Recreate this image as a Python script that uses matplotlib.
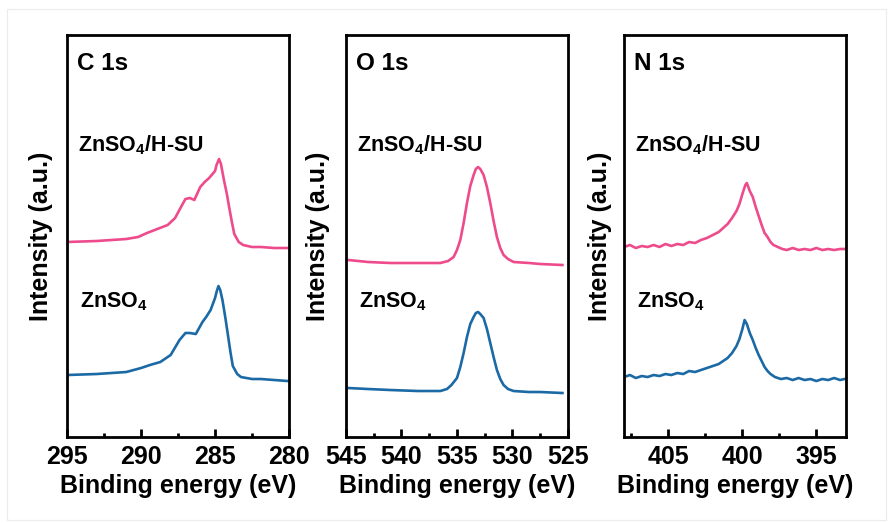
import matplotlib
matplotlib.use("Agg")
import matplotlib.pyplot as plt
from matplotlib.ticker import MultipleLocator
from matplotlib.patches import Rectangle

plt.rcParams['font.family'] = ['Liberation Sans', 'DejaVu Sans']
plt.rcParams['font.weight'] = 'bold'
plt.rcParams['mathtext.fontset'] = 'custom'
plt.rcParams['mathtext.rm'] = 'Liberation Sans:bold'
plt.rcParams['mathtext.bf'] = 'Liberation Sans:bold'
plt.rcParams['mathtext.default'] = 'bf'

PINK = '#EE4B8D'
BLUE = '#1B6AA5'

# C 1s  (binding energy in eV, intensity in arbitrary units)
c1s_e_hsu = [295.0, 293.0, 291.0, 290.2, 289.6, 288.9, 288.2, 287.7, 287.3, 287.0, 286.7,
             286.4, 286.0, 285.7, 285.4, 285.0, 284.9, 284.73, 284.6, 284.4, 284.2, 284.05,
             283.85, 283.7, 283.4, 283.1, 282.5, 281.9, 281.0, 280.1]
c1s_i_hsu = [195, 196, 198, 200, 204, 208, 212, 219, 230, 238, 239,
             237, 250, 255, 259, 266, 272, 278, 273, 257, 243, 230,
             214, 203, 195, 192, 190, 190, 189, 189]
c1s_e_zn = [295.0, 293.0, 291.0, 290.0, 289.4, 288.7, 288.0, 287.4, 287.0, 286.7, 286.3,
            285.85, 285.6, 285.3, 285.0, 284.88, 284.77, 284.65, 284.5, 284.3, 284.15,
            283.95, 283.8, 283.5, 283.25, 282.5, 281.9, 281.0, 280.1]
c1s_i_zn = [62, 63, 65, 69, 72, 75, 82, 97, 104, 104, 103,
            115, 120, 127, 139, 146, 151, 147, 137, 119, 104,
            84, 71, 63, 60, 58, 58, 57, 56]

# O 1s
o1s_e_hsu = [544.8, 543.0, 541.0, 538.5, 536.5, 535.8, 535.3, 535.0, 534.7, 534.4, 534.1,
             533.8, 533.5, 533.3, 533.1, 532.9, 532.6, 532.3, 532.0, 531.7, 531.4, 531.1,
             530.8, 530.4, 529.9, 528.5, 527.5, 525.5]
o1s_i_hsu = [177, 175, 174, 174, 174, 176, 180, 187, 197, 214, 234,
             251, 262, 268, 270, 268, 262, 250, 234, 216, 200, 189,
             182, 178, 175, 174, 173, 172]
o1s_e_zn = [544.8, 543.0, 541.0, 538.5, 536.5, 535.9, 535.5, 535.0, 534.7, 534.4, 534.1,
            533.8, 533.5, 533.3, 533.1, 532.9, 532.6, 532.3, 532.0, 531.7, 531.4, 531.1,
            530.8, 530.4, 529.9, 528.5, 527.5, 525.5]
o1s_i_zn = [49, 48, 47, 46, 46, 48, 52, 59, 70, 84, 100,
            113, 120, 124, 125, 123, 119, 108, 94, 80, 67, 58,
            52, 48, 46, 45, 45, 44]

# N 1s
n1s_e_hsu = [408.0, 407.6, 407.2, 406.8, 406.4, 406.0, 405.6, 405.2, 404.8, 404.4, 404.0,
             403.6, 403.2, 402.8, 402.4, 402.0, 401.6, 401.3, 401.0, 400.7, 400.4, 400.2,
             400.0, 399.8, 399.7, 399.5, 399.3, 399.1, 398.9, 398.7, 398.5, 398.3, 398.1,
             397.9, 397.6, 397.3, 397.0, 396.6, 396.2, 395.8, 395.4, 395.0, 394.6, 394.2,
             393.8, 393.4, 393.1]
n1s_i_hsu = [190, 192, 189, 191, 190, 192, 190, 193, 191, 193, 192,
             195, 194, 197, 199, 202, 205, 209, 213, 219, 226, 233,
             243, 252, 254, 246, 240, 230, 221, 212, 204, 200, 195,
             192, 190, 188, 187, 189, 187, 188, 187, 189, 187, 188,
             187, 188, 188]
n1s_e_zn = [408.0, 407.6, 407.2, 406.8, 406.4, 406.0, 405.6, 405.2, 404.8, 404.4, 404.0,
            403.6, 403.2, 402.8, 402.4, 402.0, 401.6, 401.3, 401.0, 400.7, 400.4, 400.2,
            400.0, 399.85, 399.7, 399.5, 399.3, 399.1, 398.9, 398.7, 398.5, 398.3, 398.1,
            397.8, 397.4, 397.0, 396.6, 396.2, 395.8, 395.4, 395.0, 394.6, 394.2, 393.8,
            393.4, 393.1]
n1s_i_zn = [60, 62, 59, 61, 60, 62, 61, 63, 62, 64, 63,
            66, 65, 67, 69, 71, 73, 76, 79, 84, 91, 98,
            108, 117, 113, 104, 97, 89, 82, 76, 70, 66, 63,
            60, 58, 59, 57, 59, 57, 58, 56, 58, 57, 59,
            57, 58]

panels = [
    ('C 1s', (295, 280), c1s_e_hsu, c1s_i_hsu, c1s_e_zn, c1s_i_zn, 0.0755, -0.063),
    ('O 1s', (545, 525), o1s_e_hsu, o1s_i_hsu, o1s_e_zn, o1s_i_zn, 0.3896, -0.072),
    ('N 1s', (408, 393), n1s_e_hsu, n1s_i_hsu, n1s_e_zn, n1s_i_zn, 0.7027, -0.054),
]

fig = plt.figure(figsize=(8.88, 5.23), dpi=100)
fig.patches.append(Rectangle((0.008, 0.006), 0.99, 0.976, transform=fig.transFigure,
                             fill=False, edgecolor='#ececec', lw=0.8))

for title, xlim, e1, i1, e2, i2, left, ylab_x in panels:
    ax = fig.add_axes([left, 0.1644, 0.25, 0.7687])
    ax.plot(e1, i1, color=PINK, lw=1.9)
    ax.plot(e2, i2, color=BLUE, lw=1.9)
    ax.set_xlim(*xlim)
    ax.set_ylim(0, 402)
    ax.xaxis.set_major_locator(MultipleLocator(5))
    ax.xaxis.set_minor_locator(MultipleLocator(2.5))
    ax.tick_params(axis='x', which='major', direction='in', length=6, width=2,
                   labelsize=18, pad=6)
    ax.tick_params(axis='x', which='minor', direction='in', length=3, width=2)
    ax.set_yticks([])
    for s in ax.spines.values():
        s.set_linewidth(2)
    for lab in ax.get_xticklabels():
        lab.set_fontweight('bold')
    ax.set_xlabel('Binding energy (eV)', fontsize=18, fontweight='bold', labelpad=3)
    ax.set_ylabel('Intensity (a.u.)', fontsize=18, fontweight='bold')
    ax.yaxis.set_label_coords(ylab_x, 0.5)
    ax.text(0.045, 0.913, title, transform=ax.transAxes, fontsize=17.5,
            fontweight='bold', va='baseline')
    ax.text(0.05, 0.71, r'ZnSO$_4$/H-SU', transform=ax.transAxes, fontsize=15.5,
            fontweight='bold', va='baseline')
    ax.text(0.057, 0.322, r'ZnSO$_4$', transform=ax.transAxes, fontsize=15.5,
            fontweight='bold', va='baseline')

fig.savefig('out.png', dpi=100)
